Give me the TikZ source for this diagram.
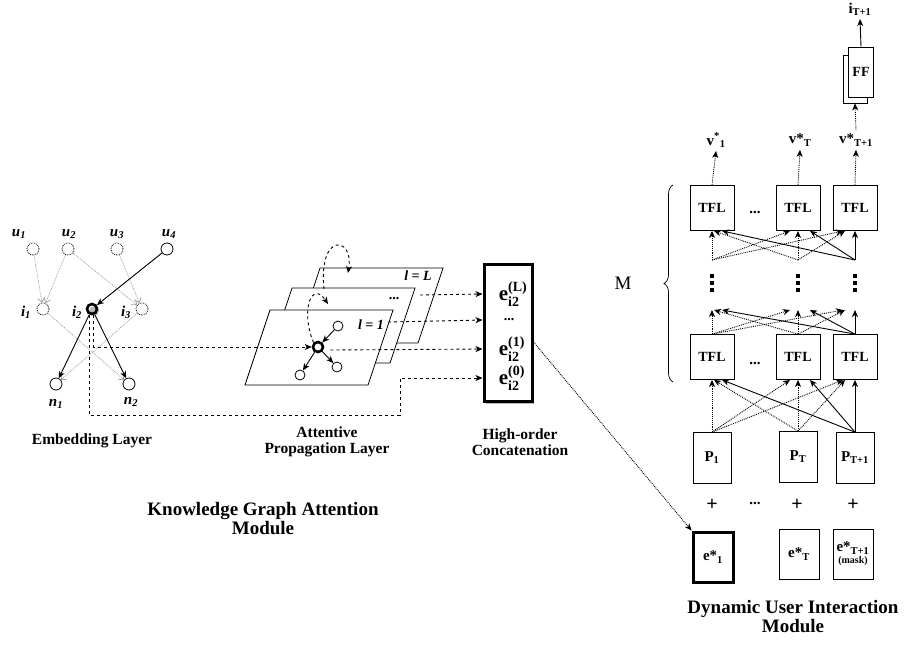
\documentclass[tikz,border=0pt]{standalone}
\usepackage{amsmath}
\usepackage{fontspec}
\setmainfont{Liberation Serif}
\usetikzlibrary{arrows.meta,shadows,decorations.pathreplacing}
\newcommand{\fsz}[1]{\fontsize{#1}{#1}\selectfont}
\newcommand{\eii}[1]{e\rlap{\raisebox{0.45em}{\fsz{14}(#1)}}\raisebox{-0.28em}{\fsz{14}i2}\hspace{6pt}}

\begin{document}
\begin{tikzpicture}[x=1pt,y=-1pt,>={Stealth[length=7pt,width=6pt,inset=2pt]},line width=0.9pt,font=\bfseries,
	ent/.style={circle,draw,line width=0.8pt,minimum size=12pt,inner sep=0pt},
	ghost/.style={ent,densely dotted},
	hub/.style={circle,draw,line width=2.6pt,minimum size=10pt,inner sep=0pt},
	sub/.style={circle,draw,line width=0.8pt,minimum size=10pt,inner sep=0pt},
	gl/.style={font=\fsz{15}\bfseries\itshape,inner sep=1pt},
	faint/.style={-{Straight Barb[length=4pt,width=7pt]},densely dotted,gray!75,line width=0.8pt},
	shadowed/.style={drop shadow={shadow xshift=2pt,shadow yshift=-2pt,fill=gray!55,opacity=1}},
	tfl/.style={draw,line width=0.8pt,fill=white,minimum width=44pt,minimum height=45pt,font=\fsz{14}\bfseries},
	pbox/.style={draw,line width=0.8pt,fill=white,minimum width=38pt,minimum height=51pt,font=\fsz{15}\bfseries},
	ebox/.style={draw,line width=0.8pt,fill=white,minimum width=40pt,minimum height=50pt,font=\fsz{15}\bfseries,align=center},
	layername/.style={font=\fsz{15.5}\bfseries,align=center},
	modname/.style={font=\fsz{19}\bfseries,align=center}]
\useasboundingbox (0,0) rectangle (908,654);

% embedding layer
\node[ghost] (u1) at (33,249) {};
\node[ghost] (u2) at (68,249) {};
\node[ghost] (u3) at (117,249) {};
\node[ent] (u4) at (167,249) {};
\node[ghost] (i1) at (43,309) {};
\node[hub,shadowed] (i2) at (92,309) {};
\node[ghost] (i3) at (142,309) {};
\node[ent] (n1) at (56,384) {};
\node[ent] (n2) at (129,384) {};
\node[gl] at (19,234) {u\textsubscript{1}};
\node[gl] at (69,234) {u\textsubscript{2}};
\node[gl] at (117,234) {u\textsubscript{3}};
\node[gl] at (169,234) {u\textsubscript{4}};
\node[gl] at (26,312) {i\textsubscript{1}};
\node[gl] at (77,312) {i\textsubscript{2}};
\node[gl] at (126,312) {i\textsubscript{3}};
\node[gl] at (56,404) {n\textsubscript{1}};
\node[gl] at (131,402) {n\textsubscript{2}};
\path[faint] (u1) edge (i1) (u2) edge (i1) (u2) edge (i3) (u3) edge (i3)
	(i1) edge (n2) (i3) edge (n1);
\path[->] (u4) edge (i2) (i2) edge (n1) (i2) edge (n2);

% attentive propagation layer
\foreach \dx/\dy in {50/-42,22/-22,0/0}
	\draw[line width=0.8pt,fill=white,shift={(\dx,\dy)}] (245,385) -- ++(123,0) -- ++(25,-75) -- ++(-123,0) -- cycle;
\node[gl,font=\fsz{14}\bfseries\itshape] at (418,276) {l = L};
\node[font=\fsz{14}\bfseries] at (394,299) {...};
\node[gl,font=\fsz{14}\bfseries\itshape] at (371,325) {l = 1};
\node[hub] (c) at (318,347) {};
\node[sub] (a) at (338,326) {};
\node[sub] (b) at (337,367) {};
\node[sub] (d) at (300,375) {};
\path[->] (a) edge (c) (c) edge (b) (c) edge (d);
\draw[dashed,->] (324,289) .. controls (318,232) and (354,236) .. (348,273);
\draw[dashed,->] (c.north west) .. controls (300,310) and (312,280) .. (328,304);

% high-order concatenation
\node[draw,line width=3pt,fill=white,shadowed,minimum width=48pt,minimum height=137pt] (cat) at (508,333) {};
\node[font=\fsz{21}\bfseries] (eL) at (509,294) {\eii{L}};
\node[font=\fsz{14}\bfseries] (em) at (509,320) {...};
\node[font=\fsz{21}\bfseries] (e1) at (509,349) {\eii{1}};
\node[font=\fsz{21}\bfseries] (e0) at (509,378) {\eii{0}};
\draw[dashed,->] (420,295) -- (cat.west |- eL);
\draw[dashed,->] (388,322) -- (cat.west |- em);
\draw[dashed,->] (c.east) ++(6,3) -- (cat.west |- e1);
\draw[dashed,->] ([xshift=1.5pt]i2.south) |- (c.west);
\draw[dashed,->] ([xshift=-3pt]i2.south) |- (400,415) |- (cat.west |- e0);

\node[layername] at (92,441) {Embedding Layer};
\node[layername] at (327,442) {Attentive\\Propagation Layer};
\node[layername] at (520,442) {High-order\\Concatenation};
\node[modname] at (263,519) {Knowledge Graph Attention\\Module};

% dynamic user interaction module
\node[tfl] (t1) at (712,208) {TFL};
\node[tfl] (t2) at (798,208) {TFL};
\node[tfl] (t3) at (855,208) {TFL};
\node[tfl] (b1) at (712,357) {TFL};
\node[tfl] (b2) at (798,357) {TFL};
\node[tfl] (b3) at (855,357) {TFL};
\node[pbox] (p1) at (712,458) {P\textsubscript{1}};
\node[pbox] (p2) at (798,457) {P\textsubscript{T}};
\node[pbox] (p3) at (855,458) {P\textsubscript{T+1}};
\node[ebox,line width=3pt,shadowed] (x1) at (713,557) {e*\textsubscript{1}};
\node[ebox] (x2) at (799,554) {e*\textsubscript{T}};
\node[ebox,inner sep=1pt] (x3) at (853,554) {e*\textsubscript{T+1}\\[-3pt]{\fsz{10}(mask)}};
\foreach \x/\n in {712/1,798/2,855/3} {
	\coordinate (h\n) at (\x,310);
	\coordinate (g\n) at (\x,260);
	\foreach \y in {276,283,290} \fill (\x-1.6,\y-1.6) rectangle ++(3.2,3.2);
}
\foreach \x in {712,797,853} \node[font=\fsz{20}\bfseries] at (\x,505) {+};
\foreach \y in {212,363,503} \node[font=\fsz{15}\bfseries] at (755,\y) {...};

% attention links
\foreach \lo/\la/\hi/\ha in {p/.north/b/.south,b/.north/h/,g//t/.south} {
	\foreach \s/\t/\o in {1/1/0,2/1/2,1/2/-8,2/2/0,1/3/-12,2/3/-10}
		\draw[->,densely dotted] (\lo\s\la) -- ([xshift=\o pt]\hi\t\ha);
	\foreach \t/\o in {1/10,2/12,3/0}
		\draw[->] (\lo3\la) -- ([xshift=\o pt]\hi\t\ha);
}

\node[font=\fsz{15}\bfseries] (v1) at (716,140) {v\textsuperscript{*}\textsubscript{1}};
\node[font=\fsz{15}\bfseries] (v2) at (800,140) {v*\textsubscript{T}};
\node[font=\fsz{15}\bfseries] (v3) at (856,140) {v*\textsubscript{T+1}};
\foreach \n in {1,2,3} \draw[->,densely dotted] (t\n.north) -- (v\n.south);
\node[draw,line width=0.8pt,fill=white,minimum width=24pt,minimum height=48pt] (ffb) at (855,79) {};
\node[draw,line width=0.8pt,fill=white,minimum width=25pt,minimum height=50pt,font=\fsz{14}\bfseries] (ff) at (861,72) {FF};
\node[font=\fsz{15}\bfseries] (out) at (860,9) {i\textsubscript{T+1}};
\draw[->,densely dotted] (v3.north) -- (ffb.south);
\draw[->] (ff.north) -- (out.south);

\draw[line width=0.7pt,decorate,decoration={brace,amplitude=9pt}] (673,382) -- (673,185);
\node[font=\fsz{19}] at (623,283) {M};

\draw[densely dotted,->] ([yshift=-9pt]cat.east) -- (x1.north west);
\node[modname] at (793,617) {Dynamic User Interaction\\Module};
\end{tikzpicture}
\end{document}
